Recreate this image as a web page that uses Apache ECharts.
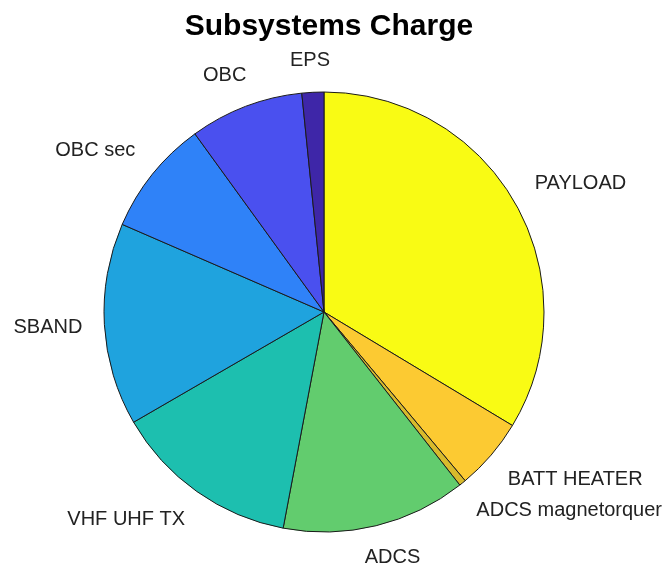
<!DOCTYPE html>
<html>
<head>
<meta charset="utf-8">
<script src="https://cdn.jsdelivr.net/npm/echarts@6/dist/echarts.min.js"></script>
<style>
  html, body { margin: 0; padding: 0; background: #fff; }
  #chart { width: 670px; height: 571px; }
</style>
</head>
<body>
<div id="chart"></div>
<script>
// slices, clockwise from 12 o'clock (values read as degrees of the pie)
const labels = ['PAYLOAD', 'BATT HEATER', 'ADCS magnetorquer', 'ADCS', 'VHF UHF TX', 'SBAND', 'OBC sec', 'OBC', 'EPS']
const values = [121.0, 19.0, 1.8, 48.8, 49.2, 53.5, 30.6, 30.1, 5.8]
const colors = ['#f9fb14', '#fcca32', '#d8ba2c', '#62cc6e', '#1dbfaf', '#1fa3de', '#2f82f8', '#4a50ef', '#3e26a8']

const cx = 324, cy = 312, R = 220

// mid angle of every slice (clockwise from top), used to put labels like matlab does
const total = values.reduce((a, b) => a + b, 0)
let cum = 0
const midAngles = values.map(v => {
  const a = (cum + v / 2) / total * 2 * Math.PI
  cum += v
  return a
})

const clamp = (v) => Math.max(-1, Math.min(1, v))

const myChart = echarts.init(document.getElementById('chart'))

myChart.setOption({
  animation: false,
  title: {
    text: 'Subsystems Charge',
    left: cx,
    textAlign: 'center',
    top: 7,
    textStyle: {
      fontFamily: 'Liberation Sans, Arial, sans-serif',
      fontWeight: 'bold',
      fontSize: 30,
      color: '#000'
    }
  },
  series: [
    {
      type: 'pie',
      center: [cx, cy],
      radius: [0, R],
      startAngle: 90,
      clockwise: true,
      avoidLabelOverlap: false,
      data: labels.map((name, i) => ({ name: name, value: values[i], itemStyle: { color: colors[i] } })),
      itemStyle: {
        borderColor: '#1a1a1a',
        borderWidth: 1
      },
      label: {
        show: true,
        position: 'outside',
        formatter: '{b}',
        fontFamily: 'Liberation Sans, Arial, sans-serif',
        fontSize: 20,
        color: '#222'
      },
      labelLine: {
        show: false,
        length: 20,
        length2: 0
      },
      labelLayout: function (params) {
        // nearest corner of the text box sits just outside the circle
        const t = midAngles[params.dataIndex]
        const s = Math.sin(t), c = Math.cos(t)
        const w = params.labelRect.width, h = params.labelRect.height
        const px = cx + 1.1 * R * s
        const py = cy - 1.1 * R * c
        return {
          x: px + clamp(1.7 * s) * w / 2,
          y: py - clamp(2 * c) * h / 2,
          align: 'center',
          verticalAlign: 'middle'
        }
      },
      emphasis: { disabled: true }
    }
  ]
})
</script>
</body>
</html>
